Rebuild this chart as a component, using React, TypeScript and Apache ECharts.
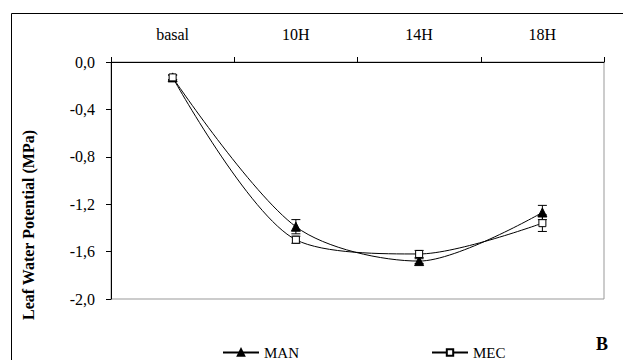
import React, { useEffect, useRef } from "react";
import * as echarts from "echarts";

const categories = ["basal", "10H", "14H", "18H"];
const manValues = [-0.13, -1.39, -1.68, -1.27];
const manErrors = [0.02, 0.06, 0.02, 0.06];
const mecValues = [-0.13, -1.5, -1.62, -1.36];
const mecErrors = [0.02, 0.03, 0.03, 0.07];
const yTicks = { min: -2, max: 0, interval: 0.4 };

const FONT = "Liberation Serif";

function errorData(values: number[], errs: number[]) {
  return values.map((v, i) => [i, v - errs[i], v + errs[i]]);
}

function renderErrorBar(params: any, api: any) {
  const x = api.value(0);
  const lo = api.coord([x, api.value(1)]);
  const hi = api.coord([x, api.value(2)]);
  const w = 4.5;
  const style = { stroke: "#000", lineWidth: 1 };
  return {
    type: "group",
    children: [
      { type: "line", shape: { x1: lo[0], y1: lo[1], x2: hi[0], y2: hi[1] }, style },
      { type: "line", shape: { x1: lo[0] - w, y1: lo[1], x2: lo[0] + w, y2: lo[1] }, style },
      { type: "line", shape: { x1: hi[0] - w, y1: hi[1], x2: hi[0] + w, y2: hi[1] }, style },
    ],
  };
}

export default function App() {
  const ref = useRef<HTMLDivElement>(null);
  useEffect(() => {
    if (!ref.current) return;
    const chart = echarts.init(ref.current, undefined, { renderer: "svg" });
    chart.setOption({
      animation: false,
      backgroundColor: "#fff",
      textStyle: { fontFamily: FONT, color: "#000" },
      grid: {
        left: 111,
        top: 62,
        right: 19,
        bottom: 61,
        show: true,
        borderColor: "#999",
        borderWidth: 1,
        backgroundColor: "transparent",
      },
      xAxis: {
        type: "category",
        data: categories,
        position: "top",
        boundaryGap: true,
        axisLine: { show: true, lineStyle: { color: "#000", width: 1 } },
        axisTick: { show: true, length: 5, alignWithLabel: false, lineStyle: { color: "#000" } },
        axisLabel: { fontFamily: FONT, fontSize: 16, color: "#000", margin: 20 },
        splitLine: { show: false },
      },
      yAxis: {
        type: "value",
        min: yTicks.min,
        max: yTicks.max,
        interval: yTicks.interval,
        axisLine: { show: true, lineStyle: { color: "#000", width: 1 } },
        axisTick: { show: true, length: 5, lineStyle: { color: "#000" } },
        axisLabel: {
          fontFamily: FONT,
          fontSize: 16,
          color: "#000",
          margin: 16,
          formatter: (v: number) => v.toFixed(1).replace(".", ","),
        },
        splitLine: { show: false },
      },
      legend: {
        left: 217,
        top: 340,
        itemWidth: 36,
        itemHeight: 8,
        itemGap: 132,
        textStyle: { fontFamily: FONT, fontSize: 15, color: "#000" },
        data: ["MAN", "MEC"],
      },
      graphic: [
        {
          type: "rect",
          shape: { x: 11.5, y: 13.5, width: 700, height: 400 },
          style: { fill: "none", stroke: "#000", lineWidth: 1 },
          silent: true,
        },
        {
          type: "text",
          x: 28,
          y: 225,
          rotation: Math.PI / 2,
          style: {
            text: "Leaf Water Potential (MPa)",
            fontFamily: FONT,
            fontSize: 16,
            fontWeight: "bold",
            fill: "#000",
            align: "center",
            verticalAlign: "middle",
          },
        },
        {
          type: "text",
          x: 602,
          y: 344,
          style: {
            text: "B",
            fontFamily: FONT,
            fontSize: 18,
            fontWeight: "bold",
            fill: "#000",
            align: "center",
            verticalAlign: "middle",
          },
        },
      ],
      series: [
        {
          name: "MAN",
          type: "line",
          data: manValues,
          smooth: 0.3,
          symbol: "triangle",
          symbolSize: 9,
          lineStyle: { color: "#000", width: 1 },
          itemStyle: { color: "#000", borderColor: "#000", borderWidth: 1 },
          z: 3,
        },
        {
          name: "MEC",
          type: "line",
          data: mecValues,
          smooth: 0.3,
          symbol: "rect",
          symbolSize: 7,
          lineStyle: { color: "#000", width: 1 },
          itemStyle: { color: "#fff", borderColor: "#000", borderWidth: 1 },
          z: 3,
        },
        {
          name: "MAN err",
          type: "custom",
          data: errorData(manValues, manErrors),
          renderItem: renderErrorBar,
          encode: { x: 0, y: [1, 2] },
          z: 2,
          silent: true,
        },
        {
          name: "MEC err",
          type: "custom",
          data: errorData(mecValues, mecErrors),
          renderItem: renderErrorBar,
          encode: { x: 0, y: [1, 2] },
          z: 2,
          silent: true,
        },
      ],
    });
    return () => chart.dispose();
  }, []);
  return (
    <div
      ref={ref}
      style={{ position: "fixed", left: 0, top: 0, width: 623, height: 360 }}
    />
  );
}
